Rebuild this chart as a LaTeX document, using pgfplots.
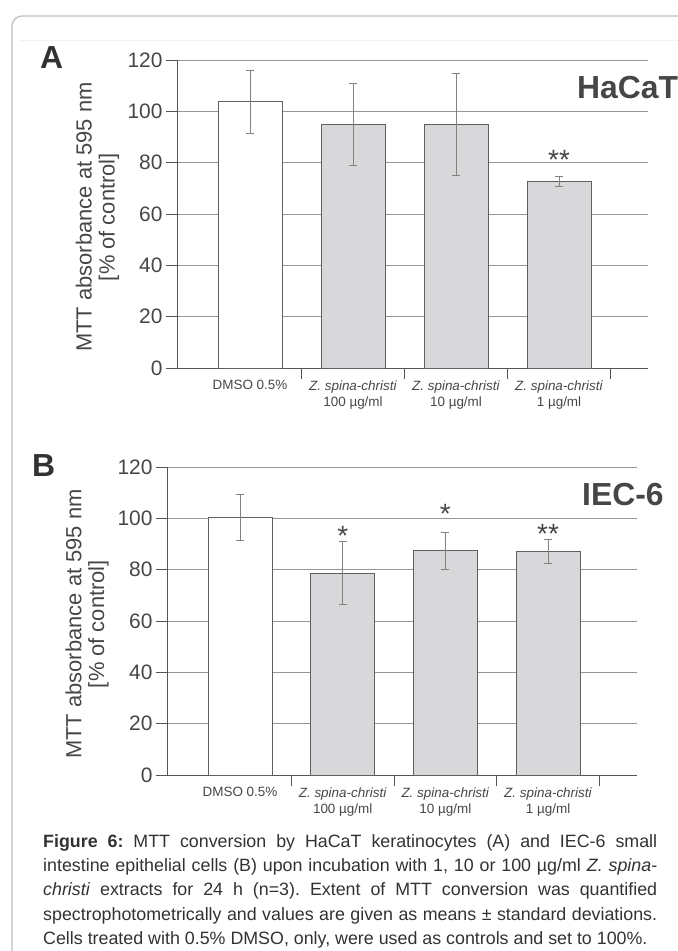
\documentclass[border=0pt]{standalone}
\usepackage{fontspec}
\setmainfont{Liberation Sans}
\usepackage{pgfplots}
\pgfplotsset{compat=1.18}
\definecolor{axisgray}{RGB}{85,85,85}
\definecolor{gridgray}{RGB}{150,150,150}
\definecolor{barfill}{RGB}{216,216,218}
\definecolor{baredge}{RGB}{95,95,95}
\definecolor{errgray}{RGB}{130,130,130}
\definecolor{textgray}{RGB}{70,70,70}
\definecolor{labgray}{RGB}{50,50,50}
\pgfplotsset{
  panel/.style={
    scale only axis, height=308bp, anchor=south west,
    ymin=0, ymax=120,
    axis x line=bottom, axis y line=left,
    axis line style={-, draw=axisgray, line width=1bp},
    ytick={0,20,...,120},
    ymajorgrids, grid style={draw=gridgray, line width=0.8bp},
    tick align=outside, major tick length=11bp,
    tick style={draw=axisgray, line width=0.9bp},
    /pgf/number format/assume math mode=true,
    yticklabel style={font=\fontsize{21}{21}\selectfont, text=textgray},
    xtick={0.5,1.5,2.5,3.5}, xticklabels={},
    extra x ticks={0,1,2,3},
    extra x tick labels={DMSO 0.5\%,{\textit{Z. spina-christi}\\100 µg/ml},{\textit{Z. spina-christi}\\10 µg/ml},{\textit{Z. spina-christi}\\1 µg/ml}},
    extra x tick style={xtick style={draw=none}, xticklabel style={align=center, font=\fontsize{13.5}{16}\selectfont, text=textgray, yshift=2bp}},
    ylabel={MTT absorbance at 595 nm\\{}[\% of control]},
    clip=false,
  },
  ylab/.style={every axis y label/.style={at={(axis description cs:#1,0.49)}, rotate=90, anchor=center,
    align=center, font=\fontsize{22}{23}\selectfont, text=textgray}},
  errstyle/.style={error bars/.cd, y dir=both, y explicit,
    error bar style={draw=errgray, line width=0.9bp},
    error mark=-,
    error mark options={rotate=90, draw=errgray, mark size=4bp, line width=0.9bp}},
  whitebar/.style={ybar, bar shift=0pt, bar width=64bp, fill=white, draw=baredge, line width=1bp, errstyle},
  graybar/.style={ybar, bar shift=0pt, bar width=64bp, fill=barfill, draw=baredge, line width=1bp, errstyle},
}
\begin{document}
\frenchspacing
\begin{tikzpicture}
\useasboundingbox (0,0) rectangle (678bp,-951bp);
\draw[draw=gray!50, line width=1.3bp] (12bp,-960bp) -- (12bp,-26bp) arc[start angle=180, end angle=90, radius=10bp] -- (690bp,-16bp);
\draw[draw=gray!10, line width=0.8bp] (20bp,-40bp) -- (678bp,-40bp);
% Panel A
\begin{axis}[panel, at={(177bp,-368bp)}, width=471bp, xmin=-0.709, xmax=3.864, ylab=-0.169]
\addplot[whitebar] coordinates {(0,103.65) +- (0,12.15)};
\addplot[graybar] coordinates {(1,94.9) +- (0,16.1) (2,94.85) +- (0,20.0) (3,72.6) +- (0,1.95)};
\node[anchor=base, font=\fontsize{28}{28}\selectfont, text=textgray] at (axis cs:3,77.2) {**};
\end{axis}
% Panel B
\begin{axis}[panel, at={(167bp,-775bp)}, width=470bp, xmin=-0.711, xmax=3.866, ylab=-0.170]
\addplot[whitebar] coordinates {(0,100.5) +- (0,9.0)};
\addplot[graybar] coordinates {(1,78.7) +- (0,12.4) (2,87.3) +- (0,7.1) (3,87.0) +- (0,4.65)};
\node[anchor=base, font=\fontsize{28}{28}\selectfont, text=textgray] at (axis cs:1,89.5) {*};
\node[anchor=base, font=\fontsize{28}{28}\selectfont, text=textgray] at (axis cs:2,98.1) {*};
\node[anchor=base, font=\fontsize{28}{28}\selectfont, text=textgray] at (axis cs:3,90.3) {**};
\end{axis}
\node[anchor=base west, inner sep=0pt, font=\bfseries\fontsize{32}{32}\selectfont, text=labgray] at (40bp,-68bp) {A};
\node[anchor=base west, inner sep=0pt, font=\bfseries\fontsize{32}{32}\selectfont, text=labgray] at (32bp,-476bp) {B};
\node[anchor=base west, inner sep=0pt, font=\bfseries\fontsize{32}{32}\selectfont, text=textgray] at (577bp,-98bp) {HaCaT};
\node[anchor=base west, inner sep=0pt, font=\bfseries\fontsize{32}{32}\selectfont, text=textgray] at (582bp,-505bp) {IEC-6};
\node[anchor=north west, inner sep=0pt, text width=614bp, align=justify, font=\fontsize{17.9}{24.5}\selectfont, text=labgray] at (43bp,-834bp)
{\frenchspacing\textbf{Figure 6:} MTT conversion by HaCaT keratinocytes (A) and IEC-6 small\linebreak
intestine epithelial cells (B) upon incubation with 1, 10 or 100 µg/ml \textit{Z. spina-}\linebreak
\textit{christi} extracts for 24 h (n=3). Extent of MTT conversion was quantified\linebreak
spectrophotometrically and values are given as means ± standard deviations.\linebreak
Cells treated with 0.5\% DMSO, only, were used as controls and set to 100\%.};
\end{tikzpicture}
\end{document}
